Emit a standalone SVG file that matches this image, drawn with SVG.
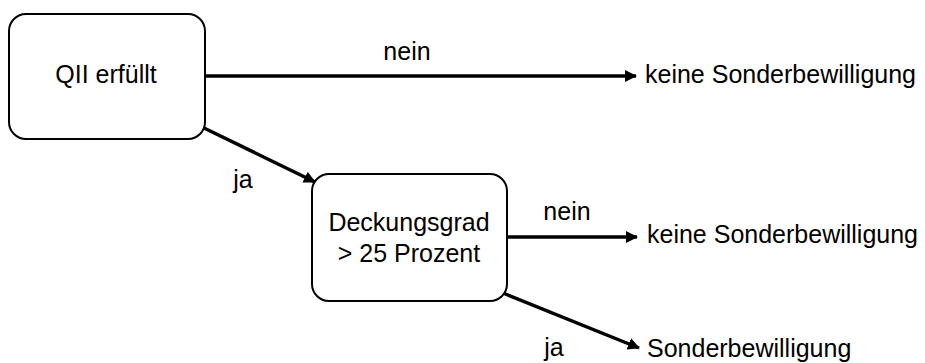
<svg xmlns="http://www.w3.org/2000/svg" width="925" height="363" viewBox="0 0 925 363">
<style>
.box{fill:#fff;stroke:#000;stroke-width:2}
.t{font-family:"Liberation Sans",Arial,sans-serif;font-size:25px;fill:#000}
.c{text-anchor:middle}
.e{stroke:#000;stroke-width:3.5;fill:none}
</style>
<defs>
<marker id="ah" markerUnits="userSpaceOnUse" markerWidth="13" markerHeight="13" refX="11" refY="6" orient="auto">
<path d="M0,0 L12,6 L0,12 z" fill="#000"/>
</marker>
</defs>
<rect width="925" height="363" fill="#fff"/>
<g id="connectors">
<line class="e" x1="206" y1="76" x2="636" y2="76" marker-end="url(#ah)"/>
<line class="e" x1="204" y1="128" x2="315" y2="182" marker-end="url(#ah)"/>
<line class="e" x1="508" y1="237" x2="637" y2="237" marker-end="url(#ah)"/>
<line class="e" x1="503" y1="293" x2="639" y2="348" marker-end="url(#ah)"/>
<text class="t c" x="407" y="60">nein</text>
<text class="t c" x="243" y="188">ja</text>
<text class="t c" x="567" y="220">nein</text>
<text class="t c" x="554" y="356">ja</text>
</g>
<g id="n1">
<rect class="box" x="9" y="14" width="196" height="125" rx="17"/>
<text class="t c" x="106" y="83">QII erfüllt</text>
</g>
<g id="n2">
<rect class="box" x="312" y="174" width="195" height="127" rx="17"/>
<text class="t c" x="409" y="231">Deckungsgrad</text>
<text class="t c" x="409" y="262">&gt; 25 Prozent</text>
</g>
<g id="r1"><text class="t" x="645" y="83">keine Sonderbewilligung</text></g>
<g id="r2"><text class="t" x="647" y="243">keine Sonderbewilligung</text></g>
<g id="r3"><text class="t" x="647" y="357">Sonderbewilligung</text></g>
</svg>
